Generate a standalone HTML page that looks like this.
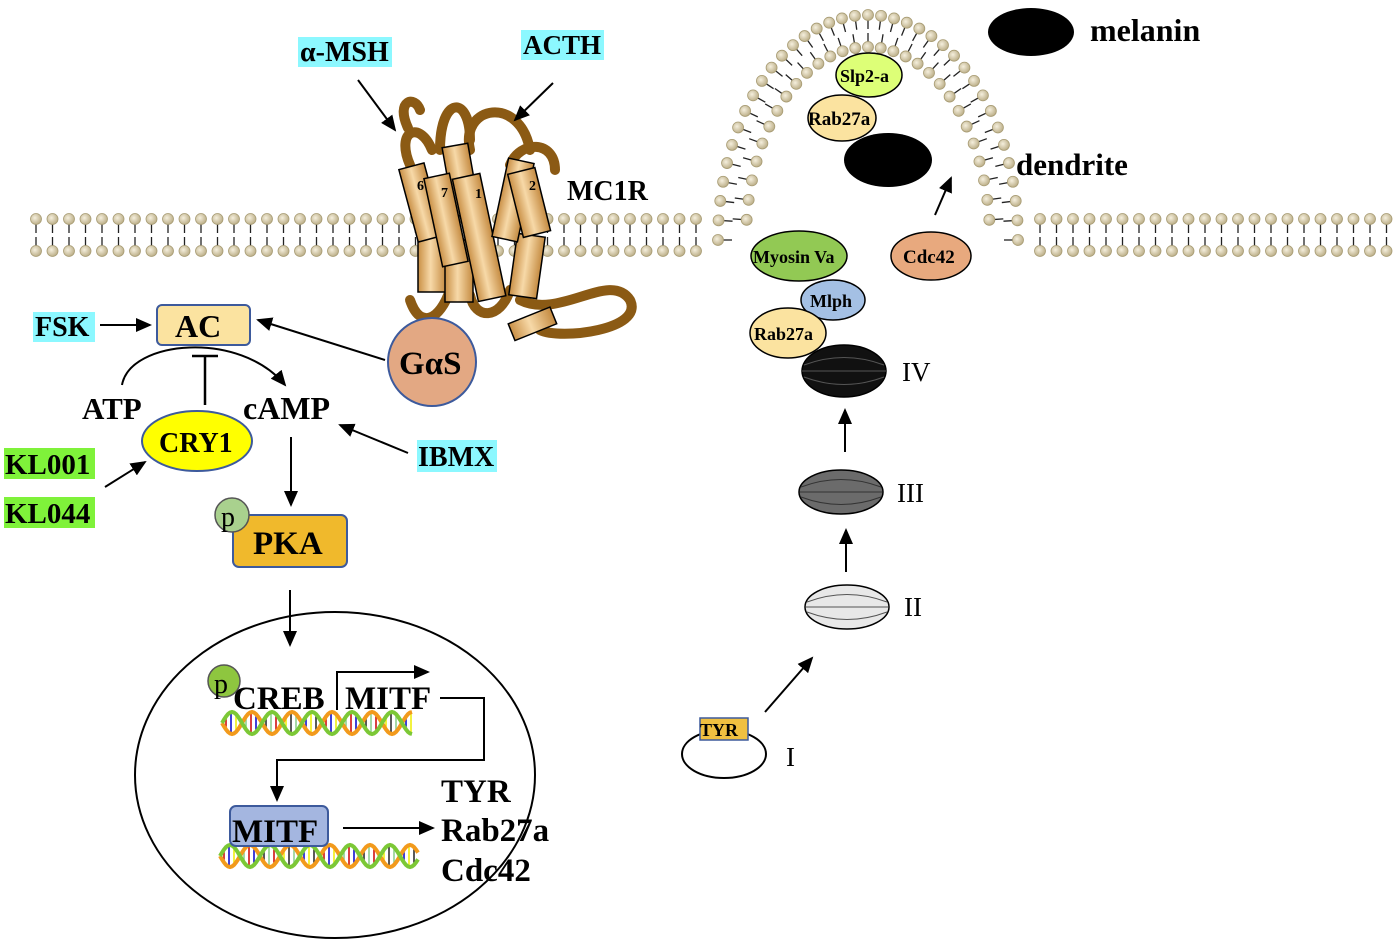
<!DOCTYPE html>
<html><head><meta charset="utf-8"><style>
body{margin:0;background:#fff;}
svg{display:block;}
text{font-family:"Liberation Serif",serif;font-weight:bold;}
</style></head><body>
<svg id="s" width="1400" height="942" viewBox="0 0 1400 942" xmlns="http://www.w3.org/2000/svg">
<defs>
<marker id="ar2" markerWidth="16" markerHeight="14" refX="14" refY="7" orient="auto" markerUnits="userSpaceOnUse"><path d="M0,0 L16,7 L0,14 z" fill="#000"/></marker>
<linearGradient id="cyl" x1="0" x2="1" y1="0" y2="0"><stop offset="0" stop-color="#c98f45"/><stop offset="0.45" stop-color="#f7d9a8"/><stop offset="1" stop-color="#c48a40"/></linearGradient>
<radialGradient id="head" cx="0.4" cy="0.4" r="0.6"><stop offset="0" stop-color="#f5efdd"/><stop offset="1" stop-color="#bdb08a"/></radialGradient>
</defs>
<g id="mem"></g>

<!-- receptor loops -->
<g fill="none" stroke="#8b5a14" stroke-width="10" stroke-linecap="round">
<path d="M410,165 C395,130 420,120 432,150"/>
<path d="M408,128 C395,100 415,95 420,110"/>
<path d="M440,150 C440,95 470,95 470,140"/>
<path d="M470,150 C460,105 520,95 530,150"/>
<path d="M510,165 C520,140 555,140 555,170"/>
<path d="M410,300 C420,330 440,320 450,290"/>
<path d="M470,295 C475,320 500,320 510,290"/>
<path d="M520,300 C560,320 610,270 630,300 C645,330 560,340 540,330"/>
</g>
<g stroke="#000" stroke-width="1.5" fill="url(#cyl)">
<rect x="418" y="230" width="28" height="62"/>
<rect x="445" y="240" width="28" height="62"/>
<rect x="513" y="235" width="28" height="62" transform="rotate(8 527 266)"/>
<rect x="408" y="165" width="26" height="75" transform="rotate(-15 421 202)"/>
<rect x="448" y="145" width="26" height="70" transform="rotate(-10 461 180)"/>
<rect x="433" y="175" width="26" height="90" transform="rotate(-12 446 220)"/>
<rect x="465" y="175" width="28" height="125" transform="rotate(-12 479 237)"/>
<rect x="500" y="160" width="26" height="80" transform="rotate(12 513 200)"/>
<rect x="515" y="170" width="28" height="65" transform="rotate(-14 529 202)"/>
<rect x="510" y="315" width="45" height="18" transform="rotate(-22 532 324)"/>
</g>
<g font-size="14"><text x="417" y="190">6</text><text x="441" y="197">7</text><text x="475" y="198">1</text><text x="529" y="190">2</text></g>
<text x="567" y="200" font-size="28">MC1R</text>

<!-- top labels -->
<rect x="298" y="37" width="94" height="30" fill="#8cf8ff"/><text x="300" y="61" font-size="28">α-MSH</text>
<rect x="521" y="30" width="83" height="30" fill="#8cf8ff"/><text x="523" y="54" font-size="27">ACTH</text>
<line x1="358" y1="80" x2="395" y2="130" stroke="#000" stroke-width="2" marker-end="url(#ar2)"/>
<line x1="553" y1="83" x2="515" y2="120" stroke="#000" stroke-width="2" marker-end="url(#ar2)"/>

<!-- left pathway -->
<rect x="157" y="305" width="93" height="40" rx="5" fill="#fbe3a0" stroke="#3d5a9c" stroke-width="2"/>
<text x="175" y="337" font-size="32">AC</text>
<rect x="33" y="312" width="62" height="30" fill="#8cf8ff"/><text x="35" y="336" font-size="28">FSK</text>
<line x1="100" y1="325" x2="150" y2="325" stroke="#000" stroke-width="2" marker-end="url(#ar2)"/>
<line x1="385" y1="360" x2="258" y2="320" stroke="#000" stroke-width="2" marker-end="url(#ar2)"/>
<circle cx="432" cy="362" r="44" fill="#e3a883" stroke="#3d5a9c" stroke-width="2"/>
<text x="399" y="374" font-size="33">GαS</text>
<path d="M122,385 C130,340 240,330 285,385" fill="none" stroke="#000" stroke-width="2" marker-end="url(#ar2)"/>
<line x1="205" y1="405" x2="205" y2="356" stroke="#000" stroke-width="2.5"/>
<line x1="192" y1="356" x2="218" y2="356" stroke="#000" stroke-width="2.5"/>
<text x="82" y="419" font-size="31">ATP</text>
<text x="243" y="419" font-size="32">cAMP</text>
<ellipse cx="197" cy="441" rx="55" ry="30" fill="#ffff00" stroke="#3d5a9c" stroke-width="2"/>
<text x="159" y="452" font-size="28">CRY1</text>
<rect x="4" y="448" width="91" height="31" fill="#7ff23a"/><text x="5" y="474" font-size="29">KL001</text>
<rect x="4" y="497" width="91" height="31" fill="#7ff23a"/><text x="5" y="523" font-size="29">KL044</text>
<line x1="105" y1="487" x2="145" y2="462" stroke="#000" stroke-width="2" marker-end="url(#ar2)"/>
<rect x="417" y="440" width="80" height="32" fill="#8cf8ff"/><text x="418" y="466" font-size="28">IBMX</text>
<line x1="408" y1="453" x2="340" y2="425" stroke="#000" stroke-width="2" marker-end="url(#ar2)"/>
<line x1="291" y1="437" x2="291" y2="505" stroke="#000" stroke-width="2" marker-end="url(#ar2)"/>
<rect x="233" y="515" width="114" height="52" rx="6" fill="#f0b92c" stroke="#3d5a9c" stroke-width="2"/>
<circle cx="232" cy="515" r="17" fill="#a9d18e" stroke="#555" stroke-width="1.5"/>
<text x="221" y="526" font-size="28" style="font-weight:normal">p</text>
<text x="253" y="554" font-size="33">PKA</text>
<line x1="290" y1="590" x2="290" y2="645" stroke="#000" stroke-width="2" marker-end="url(#ar2)"/>

<!-- nucleus -->
<ellipse cx="335" cy="775" rx="200" ry="163" fill="none" stroke="#000" stroke-width="2"/>
<g id="dna1"></g><g id="dna2"></g>
<circle cx="224" cy="681" r="16" fill="#8ec63f" stroke="#555" stroke-width="1.5"/>
<text x="214" y="693" font-size="28" style="font-weight:normal">p</text>
<text x="233" y="709" font-size="33">CREB</text>
<text x="345" y="709" font-size="33">MITF</text>
<polyline points="337,710 337,672 428,672" fill="none" stroke="#000" stroke-width="2" marker-end="url(#ar2)"/>
<polyline points="440,698 484,698 484,760 277,760 277,800" fill="none" stroke="#000" stroke-width="2" marker-end="url(#ar2)"/>
<rect x="230" y="806" width="98" height="40" rx="6" fill="#a4b6e0" stroke="#3d5a9c" stroke-width="2"/>
<text x="232" y="842" font-size="33">MITF</text>
<line x1="343" y1="828" x2="433" y2="828" stroke="#000" stroke-width="2" marker-end="url(#ar2)"/>
<text x="441" y="802" font-size="33">TYR</text>
<text x="441" y="841" font-size="33">Rab27a</text>
<text x="441" y="881" font-size="33">Cdc42</text>

<!-- right side -->
<ellipse cx="1031" cy="32" rx="43" ry="24" fill="#000"/>
<text x="1090" y="41" font-size="32">melanin</text>
<text x="1016" y="175" font-size="31">dendrite</text>
<ellipse cx="869" cy="75" rx="33" ry="22" fill="#ddff77" stroke="#000" stroke-width="1.5"/>
<text x="840" y="82" font-size="18">Slp2-a</text>
<ellipse cx="842" cy="118" rx="34" ry="23" fill="#fbe3a0" stroke="#000" stroke-width="1.5"/>
<text x="808" y="125" font-size="19">Rab27a</text>
<ellipse cx="888" cy="160" rx="44" ry="27" fill="#000"/>
<line x1="935" y1="215" x2="951" y2="178" stroke="#000" stroke-width="2" marker-end="url(#ar2)"/>
<ellipse cx="931" cy="256" rx="40" ry="24" fill="#e8a97e" stroke="#000" stroke-width="1.5"/>
<text x="903" y="263" font-size="19">Cdc42</text>
<ellipse cx="799" cy="256" rx="48" ry="25" fill="#92c954" stroke="#000" stroke-width="1.5"/>
<text x="753" y="263" font-size="18">Myosin Va</text>
<ellipse cx="833" cy="300" rx="32" ry="20" fill="#a4c0e4" stroke="#000" stroke-width="1.5"/>
<text x="810" y="307" font-size="18">Mlph</text>
<ellipse cx="788" cy="333" rx="38" ry="25" fill="#fbe3a0" stroke="#000" stroke-width="1.5"/>
<text x="754" y="340" font-size="18">Rab27a</text>
<ellipse cx="844" cy="371" rx="42" ry="26" fill="#111" stroke="#000" stroke-width="1.5"/>
<g fill="none" stroke="#555" stroke-width="1"><path d="M804,365 Q844,350 884,365"/><path d="M804,377 Q844,392 884,377"/><line x1="802" y1="371" x2="886" y2="371"/></g>
<text x="902" y="381" font-size="27" style="font-weight:normal">IV</text>
<line x1="845" y1="452" x2="845" y2="410" stroke="#000" stroke-width="2" marker-end="url(#ar2)"/>
<ellipse cx="841" cy="492" rx="42" ry="22" fill="#6b6b6b" stroke="#000" stroke-width="1.5"/>
<g fill="none" stroke="#333" stroke-width="1"><path d="M801,487 Q841,472 881,487"/><path d="M801,497 Q841,512 881,497"/><line x1="800" y1="492" x2="882" y2="492"/></g>
<text x="897" y="502" font-size="27" style="font-weight:normal">III</text>
<line x1="846" y1="572" x2="846" y2="530" stroke="#000" stroke-width="2" marker-end="url(#ar2)"/>
<ellipse cx="847" cy="607" rx="42" ry="22" fill="#e8e8e8" stroke="#000" stroke-width="1.5"/>
<g fill="none" stroke="#555" stroke-width="1"><path d="M807,602 Q847,587 887,602"/><path d="M807,612 Q847,627 887,612"/><line x1="806" y1="607" x2="888" y2="607"/></g>
<text x="904" y="616" font-size="27" style="font-weight:normal">II</text>
<line x1="765" y1="712" x2="812" y2="658" stroke="#000" stroke-width="2" marker-end="url(#ar2)"/>
<ellipse cx="724" cy="754" rx="42" ry="24" fill="#fff" stroke="#000" stroke-width="2"/>
<rect x="700" y="718" width="48" height="22" fill="#f0c040" stroke="#3d5a9c" stroke-width="1.5"/>
<text x="700" y="736" font-size="18">TYR</text>
<text x="786" y="766" font-size="27" style="font-weight:normal">I</text>
</svg>
<script>
var NS="http://www.w3.org/2000/svg",mem=document.getElementById("mem");
function el(t,a,p){var e=document.createElementNS(NS,t);for(var k in a)e.setAttribute(k,a[k]);(p||mem).appendChild(e);return e;}
function lipid(x,y,dx,dy){el("line",{x1:x,y1:y,x2:x+dx*14,y2:y+dy*14,stroke:"#222","stroke-width":1.3});el("circle",{cx:x,cy:y,r:5.5,fill:"url(#head)",stroke:"#a89c74","stroke-width":0.8});}
function flat(x0,x1){for(var x=x0;x<=x1;x+=16.5){lipid(x,219,0,1);lipid(x,251,0,-1);}}
flat(36,700);flat(1040,1392);
var cx=868,cy=240;
for(var i=0;i<=36;i++){var t=Math.PI*(1.0+i/36*1.0);
 var ox=cx+150*Math.cos(t),oy=cy+225*Math.sin(t);if(oy>252)continue;
 var nx=Math.cos(t)/150,ny=Math.sin(t)/225,l=Math.hypot(nx,ny);lipid(ox,oy,-nx/l,-ny/l);}
for(var i=0;i<=30;i++){var t=Math.PI*(1.0+i/30*1.0);
 var ox=cx+122*Math.cos(t),oy=cy+193*Math.sin(t);if(oy>236)continue;
 var nx=Math.cos(t)/122,ny=Math.sin(t)/193,l=Math.hypot(nx,ny);lipid(ox,oy,nx/l,ny/l);}
function dna(g,x0,x1,yc){g=document.getElementById(g);var cols=["#c00","#00c","#ee0","#222","#8c8"];
 for(var x=x0+4,j=0;x<x1;x+=5,j++){var a=Math.sin((x-x0)/40*2*Math.PI)*11;el("line",{x1:x,y1:yc-Math.abs(a),x2:x,y2:yc+Math.abs(a),stroke:cols[j%5],"stroke-width":1.5},g);}
 var p1="",p2="";for(var x=x0;x<=x1;x+=2){var a=Math.sin((x-x0)/40*2*Math.PI)*11;p1+=(p1?"L":"M")+x+","+(yc+a);p2+=(p2?"L":"M")+x+","+(yc-a);}
 el("path",{d:p1,fill:"none",stroke:"#f29a1c","stroke-width":4},g);el("path",{d:p2,fill:"none",stroke:"#7cc836","stroke-width":4},g);}
dna("dna1",222,412,723);dna("dna2",220,418,856);
</script>
</body></html>
